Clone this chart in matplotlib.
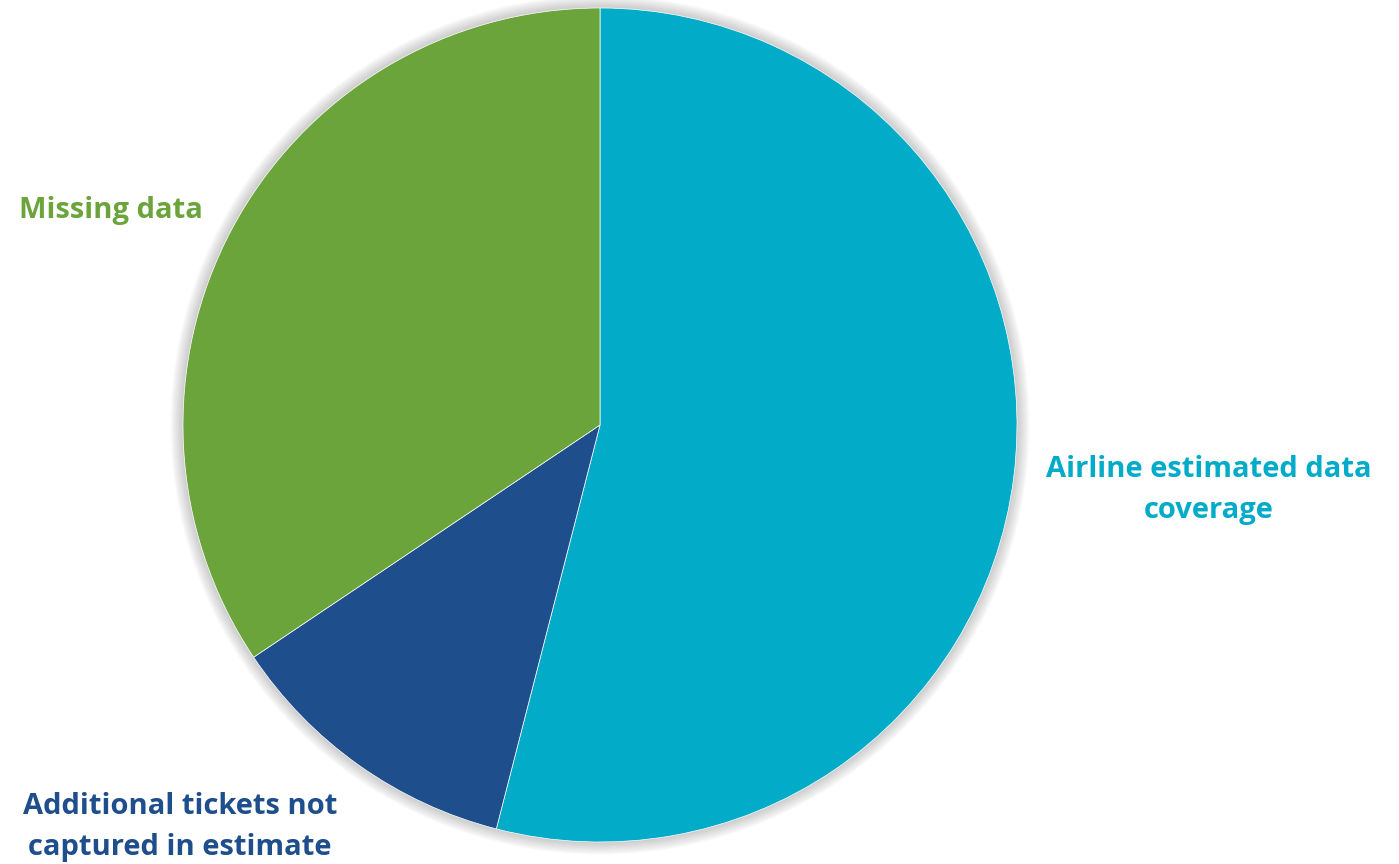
import matplotlib.pyplot as plt
from matplotlib.patches import Circle

# ----------------- data -----------------
labels = ["Airline estimated data\ncoverage",
          "Additional tickets not\ncaptured in estimate",
          "Missing data"]
shares = [54.0, 11.6, 34.4]
colors = ["#02ABC8", "#1F4E8C", "#6AA43A"]

plt.rcParams['font.family'] = ['Open Sans', 'DejaVu Sans']

fig = plt.figure(figsize=(13.99, 8.64), dpi=100)
W, H = 1399, 864
cx, cy, r = 600, 425, 417
ax = fig.add_axes([(cx - r) / W, (H - cy - r) / H, 2 * r / W, 2 * r / H])
ax.set_xlim(-1, 1)
ax.set_ylim(-1, 1)
ax.set_aspect('equal')
ax.axis('off')

# soft shadow ring
for k in range(12):
    ax.add_patch(Circle((0, 0), 1 + 0.0025 * (k + 1), color='gray',
                        alpha=0.035, lw=0, zorder=0, clip_on=False))

ax.pie(shares, colors=colors, startangle=90, counterclock=False,
       radius=1, wedgeprops=dict(linewidth=0.5, edgecolor='white'))
ax.set_xlim(-1, 1)
ax.set_ylim(-1, 1)

# labels, positioned relative to pie
pos = [(1.46, -0.155), (-1.007, -0.965), (-1.172, 0.515)]
for lab, c, (x, y) in zip(labels, colors, pos):
    ax.text(x, y, lab, color=c, fontsize=21, fontweight='bold', ha='center',
            va='center', linespacing=1.55, clip_on=False)

fig.savefig("out.png", dpi=100)
